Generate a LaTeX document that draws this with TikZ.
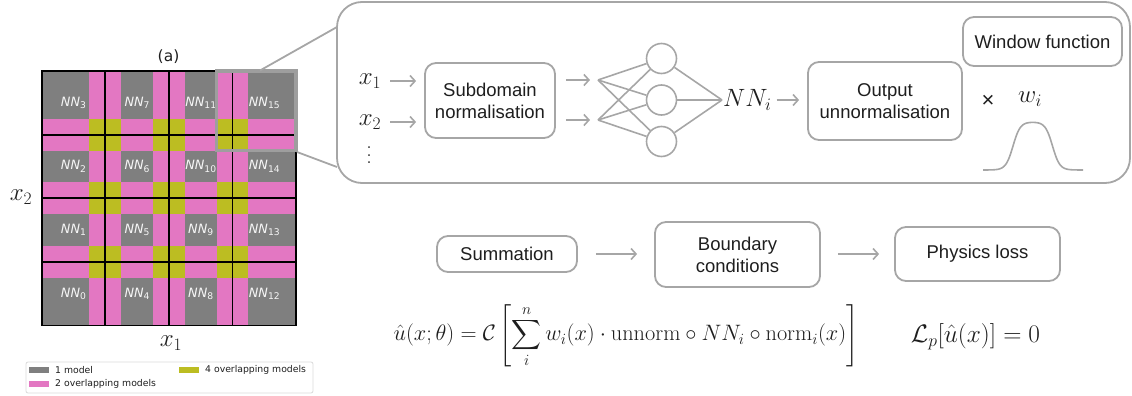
\RequirePackage{fix-cm}
\documentclass[tikz,border=0pt]{standalone}
\usepackage{fontspec}
\usepackage{amsmath}
\usetikzlibrary{arrows.meta}
\newfontfamily\hv{Liberation Sans}
\newfontfamily\dv{DejaVu Sans}
\definecolor{mgray}{HTML}{7F7F7F}
\definecolor{mpink}{HTML}{E377C2}
\definecolor{molive}{HTML}{BCBD22}
\definecolor{lgray}{HTML}{A6A6A6}
\definecolor{tcol}{HTML}{1E1E1E}
\newcommand\myvdots{\vbox{\baselineskip 7.5pt\lineskiplimit0pt\hbox{.}\hbox{.}\hbox{.}}}
\tikzset{
  gline/.style={line width=1.8pt, black},
  nnlab/.style={text=white!93!gray, font=\dv\fontsize{12.8}{13}\selectfont\itshape, inner sep=0pt},
  boxnode/.style={draw=lgray, line width=1.8pt, rounded corners=11pt, align=center, text=tcol,
     font=\hv\fontsize{18.5}{22}\selectfont, inner sep=0pt},
  arr/.style={draw=lgray, line width=1.6pt, -{Straight Barb[length=5pt,width=11pt]}},
  conn/.style={draw=lgray, line width=1.8pt},
  nnline/.style={draw=lgray, line width=1.6pt},
  neuron/.style={circle, draw=lgray, line width=1.6pt, minimum size=30pt, inner sep=0pt},
  mathlab/.style={text=tcol, font=\fontsize{25}{29}\selectfont, inner sep=0pt},
  patch/.style={minimum width=20pt, minimum height=6.5pt, inner sep=0pt},
  legtext/.style={anchor=west, inner sep=0pt, text=tcol, font=\dv\fontsize{9.3}{11}\selectfont},
}
\begin{document}
\begin{tikzpicture}[x=1pt,y=-1pt]
\useasboundingbox (0,0) rectangle (1132,396);
% ---------------- grid (a)
\fill[mgray] (41.7,71) rectangle (296.1,325.4);
\foreach \k in {1,2,3}{
  \fill[mpink] ({41.7+63.6*\k-15.9},71) rectangle ({41.7+63.6*\k+15.9},325.4);
  \fill[mpink] (41.7,{71+63.6*\k-15.9}) rectangle (296.1,{71+63.6*\k+15.9});
}
\foreach \i in {1,2,3}{
  \foreach \j in {1,2,3}{
    \fill[molive] ({41.7+63.6*\i-15.9},{71+63.6*\j-15.9}) rectangle ({41.7+63.6*\i+15.9},{71+63.6*\j+15.9});
  }
}
\foreach \k in {1,2,3}{
  \draw[gline] ({41.7+63.6*\k},71) -- ({41.7+63.6*\k},325.4);
  \draw[gline] (41.7,{71+63.6*\k}) -- (296.1,{71+63.6*\k});
}
\draw[gline] (41.7,71) rectangle (296.1,325.4);
\foreach \i in {0,...,3}{
  \foreach \j in {0,...,3}{
    \pgfmathtruncatemacro\nidx{4*\i+\j}
    \node[nnlab] (nn\nidx) at ({41.7+63.6*\i+31.8},{325.4-63.6*\j-31.8})
      {NN\raisebox{-2.2pt}{\upshape\fontsize{9.2}{9}\selectfont\nidx}};
  }
}
\node[font=\dv\fontsize{15.5}{17}\selectfont, text=tcol, inner sep=0pt] (alab) at (168.5,56.5) {(a)};
\node[mathlab] (x2lab) at (21,197) {$x_2$};
\node[mathlab] (x1lab) at (171,343) {$x_1$};
% inset box
\node[draw=lgray!95!black, line width=3.5pt, minimum width=79.5pt, minimum height=79.5pt, inner sep=0pt] (inset) at (256.35,110.75) {};
% ---------------- legend
\node[draw=black!15, line width=0.8pt, rounded corners=2pt, minimum width=287pt, minimum height=31pt, inner sep=0pt] (legend) at (169.5,377.5) {};
\node[patch, fill=mgray] (p1) at (39,370) {};
\node[patch, fill=mpink] (p2) at (39,384) {};
\node[patch, fill=molive] (p4) at (189,370) {};
\node[legtext] (t1) at (55,370) {1 model};
\node[legtext] (t2) at (55,384) {2 overlapping models};
\node[legtext] (t4) at (205,370) {4 overlapping models};
% ---------------- callout
\node[draw=lgray, line width=1.8pt, rounded corners=25pt, minimum width=793pt, minimum height=181pt, inner sep=0pt] (callout) at (733.5,92.5) {};
\coordinate (ia) at (260,70.5);
\coordinate (ib) at (297,152);
\coordinate (ca) at (337,27);
\coordinate (cb) at (337,167);
\draw[conn] (ia) -- (ca);
\draw[conn] (ib) -- (cb);
\node[mathlab] (x1) at (370,81) {$x_1$};
\node[mathlab] (x2) at (370,122) {$x_2$};
\node[mathlab, font=\fontsize{22}{26}\selectfont] (vd) at (369,155.5) {\myvdots};
\node[boxnode, minimum width=130pt, minimum height=75pt] (sub) at (490,100.5) {Subdomain\\normalisation};
\draw[arr] ([xshift=9pt]x1.east) -- ([xshift=-8pt]sub.west |- x1);
\draw[arr] ([xshift=9pt]x2.east) -- ([xshift=-8pt]sub.west |- x2);
\coordinate (in1) at (598,80);
\coordinate (in2) at (598,120);
\draw[arr] ([xshift=10pt]sub.east |- in1) -- ([xshift=-8pt]in1);
\draw[arr] ([xshift=10pt]sub.east |- in2) -- ([xshift=-8pt]in2);
\node[neuron] (h1) at (661.5,58.5) {};
\node[neuron] (h2) at (661.5,100) {};
\node[neuron] (h3) at (661.5,141.5) {};
\coordinate (onn) at (722,100);
\foreach \a in {in1,in2}{
  \foreach \b in {h1,h2,h3}{
    \draw[nnline] (\a) -- (\b);
  }
}
\foreach \b in {h1,h2,h3}{
  \draw[nnline] (\b) -- (onn);
}
\node[mathlab, anchor=west] (nni) at (723,100) {$NN_i$};
\node[boxnode, minimum width=154pt, minimum height=78pt] (out) at (885,101) {Output\\unnormalisation};
\draw[arr] ([xshift=5pt]nni.east) -- ([xshift=-8pt]out.west |- nni);
\node[boxnode, minimum width=159pt, minimum height=49pt] (win) at (1042.5,41.5) {Window function};
\node[text=tcol, font=\hv\fontsize{22}{24}\selectfont, inner sep=0pt] (times) at (988,101) {×};
\node[mathlab] (wi) at (1030,99) {$w_i$};
\draw[nnline] plot[domain=983:1083, samples=120]
  (\x, {170-48/((1+exp(-(\x-1013)/3.6))*(1+exp(-(1052.5-\x)/3.6)))});
% ---------------- bottom row
\node[boxnode, minimum width=140pt, minimum height=36pt] (sum) at (507,254) {Summation};
\node[boxnode, minimum width=165pt, minimum height=65pt] (bc) at (737.5,254.5) {Boundary\\conditions};
\node[boxnode, minimum width=165pt, minimum height=54pt] (phys) at (977.5,254) {Physics loss};
\draw[arr] ([xshift=18pt]sum.east) -- ([xshift=-17pt]bc.west |- sum);
\draw[arr] ([xshift=17pt]bc.east |- phys) -- ([xshift=-15pt]phys.west);
\node[mathlab, font=\fontsize{22.3}{26}\selectfont] (eq1) at (626,336)
  {$\displaystyle \hat{u}(x;\theta)=\mathcal{C}\left[\sum_i^n w_i(x)\cdot\mathrm{unnorm}\circ NN_i\circ\mathrm{norm}_i(x)\right]$};
\node[mathlab, font=\fontsize{25.3}{29}\selectfont] (eq2) at (975.5,337)
  {$\mathcal{L}_p[\hat{u}(x)]=0$};
\end{tikzpicture}
\end{document}
